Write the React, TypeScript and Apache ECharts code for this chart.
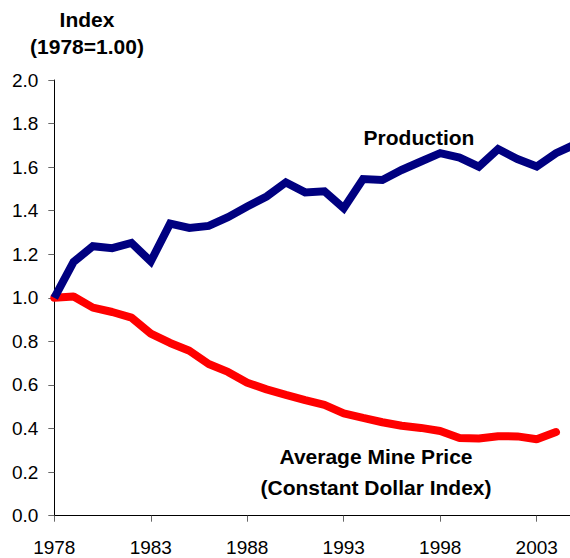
import React, { useEffect, useRef } from "react";
import * as echarts from "echarts";

const years: string[] = [
  "1978", "1979", "1980", "1981", "1982", "1983", "1984", "1985", "1986", "1987",
  "1988", "1989", "1990", "1991", "1992", "1993", "1994", "1995", "1996", "1997",
  "1998", "1999", "2000", "2001", "2002", "2003", "2004", "2005",
];

const production: number[] = [
  1.0, 1.165, 1.237, 1.228, 1.252, 1.167, 1.341, 1.321, 1.33, 1.37,
  1.419, 1.465, 1.53, 1.484, 1.489, 1.411, 1.545, 1.541, 1.587, 1.626,
  1.664, 1.644, 1.602, 1.683, 1.637, 1.603, 1.664, 1.705,
];

const minePrice: (number | null)[] = [
  1.0, 1.006, 0.955, 0.935, 0.909, 0.836, 0.793, 0.757, 0.696, 0.66,
  0.61, 0.58, 0.555, 0.531, 0.509, 0.47, 0.449, 0.429, 0.413, 0.403,
  0.389, 0.357, 0.354, 0.365, 0.364, 0.351, 0.384, null,
];

const yTitleLines: string[] = ["Index", "(1978=1.00)"];
const productionLabel = "Production";
const priceLabelLines: string[] = ["Average Mine Price", "(Constant Dollar Index)"];

const FONT = "Liberation Sans, Arial, Helvetica, sans-serif";

export default function App() {
  const ref = useRef<HTMLDivElement>(null);

  useEffect(() => {
    if (!ref.current) return;
    const chart = echarts.init(ref.current, undefined, { renderer: "svg" });
    const boldText = (text: string, x: number, y: number) => ({
      type: "text",
      x,
      y,
      style: {
        text,
        fill: "#000",
        font: `bold 21px ${FONT}`,
        align: "center",
        verticalAlign: "middle",
      },
    });
    chart.setOption({
      animation: false,
      backgroundColor: "#ffffff",
      grid: { left: 54.3, right: 24.7, top: 80, bottom: 42.3, containLabel: false },
      xAxis: {
        type: "category",
        data: years,
        boundaryGap: false,
        axisLine: { lineStyle: { color: "#000", width: 1 } },
        axisTick: { interval: 4, length: 6, lineStyle: { color: "#666" } },
        axisLabel: {
          interval: 4,
          margin: 22,
          color: "#000",
          fontSize: 19,
          fontFamily: FONT,
        },
        splitLine: { show: false },
      },
      yAxis: {
        type: "value",
        min: 0,
        max: 2,
        interval: 0.2,
        axisLine: { show: true, lineStyle: { color: "#000", width: 1 } },
        axisTick: { show: true, length: 6, lineStyle: { color: "#666" } },
        axisLabel: {
          margin: 16,
          color: "#000",
          fontSize: 19,
          fontFamily: FONT,
          formatter: (v: number) => v.toFixed(1),
        },
        splitLine: { show: false },
      },
      series: [
        {
          name: "Production",
          type: "line",
          data: production,
          symbol: "none",
          lineStyle: { color: "#000080", width: 8, join: "miter" },
          z: 3,
        },
        {
          name: "Average Mine Price",
          type: "line",
          data: minePrice,
          symbol: "none",
          lineStyle: { color: "#ff0000", width: 8, cap: "round" },
          z: 2,
        },
      ],
      graphic: [
        boldText(yTitleLines[0], 87, 19),
        boldText(yTitleLines[1], 87, 46),
        boldText(productionLabel, 419, 137),
        boldText(priceLabelLines[0], 376, 456),
        boldText(priceLabelLines[1], 376, 487),
      ],
    });
    return () => chart.dispose();
  }, []);

  return (
    <div
      style={{
        position: "fixed",
        left: 0,
        top: 0,
        width: 570,
        height: 558,
        overflow: "hidden",
        background: "#fff",
      }}
    >
      <div ref={ref} style={{ width: 600, height: 558 }} />
    </div>
  );
}
